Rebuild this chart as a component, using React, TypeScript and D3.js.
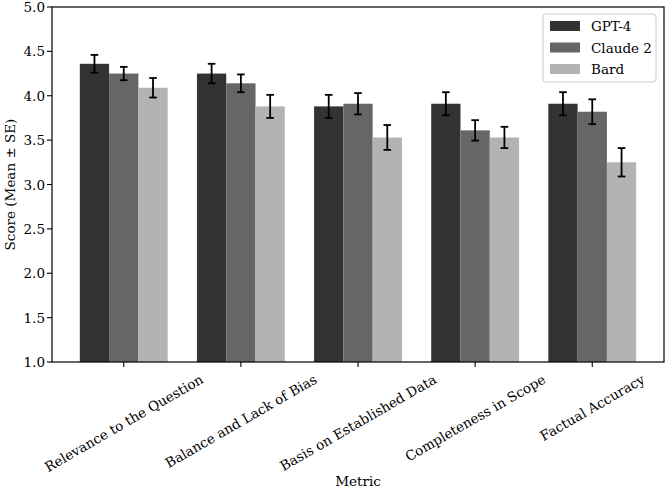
import React, { useEffect, useRef } from "react";
import * as d3 from "d3";

const categories = [
  "Relevance to the Question",
  "Balance and Lack of Bias",
  "Basis on Established Data",
  "Completeness in Scope",
  "Factual Accuracy",
];
const seriesNames = ["GPT-4", "Claude 2", "Bard"];
const gpt4Mean = [4.36, 4.25, 3.88, 3.91, 3.91];
const gpt4SE = [0.1, 0.11, 0.13, 0.13, 0.13];
const claudeMean = [4.25, 4.14, 3.91, 3.61, 3.82];
const claudeSE = [0.075, 0.1, 0.12, 0.115, 0.14];
const bardMean = [4.09, 3.88, 3.53, 3.53, 3.25];
const bardSE = [0.11, 0.13, 0.14, 0.12, 0.16];
const yTicks = [1.0, 1.5, 2.0, 2.5, 3.0, 3.5, 4.0, 4.5, 5.0];
const colors = ["#333333", "#666666", "#b3b3b3"];

const W = 666;
const H = 488;
const FONT = "'DejaVu Serif', serif";
const FS = 13.5;

export default function App() {
  const ref = useRef<SVGSVGElement | null>(null);

  useEffect(() => {
    const svg = d3.select(ref.current);
    svg.selectAll("*").remove();

    const left = 52, right = 664, top = 7, bottom = 362;
    const barW = 0.25;
    const n = categories.length;
    const lo = -1.5 * barW, hi = n - 1 + 1.5 * barW;
    const m = 0.05 * (hi - lo);
    const x = d3.scaleLinear().domain([lo - m, hi + m]).range([left, right]);
    const y = d3.scaleLinear().domain([1, 5]).range([bottom, top]);

    const means = [gpt4Mean, claudeMean, bardMean];
    const ses = [gpt4SE, claudeSE, bardSE];

    const g = svg.append("g");

    // bars
    means.forEach((vals, s) => {
      g.selectAll(null)
        .data(vals)
        .enter()
        .append("rect")
        .attr("x", (_, i) => x(i + (s - 1.5) * barW))
        .attr("width", x(barW) - x(0))
        .attr("y", (d) => y(d))
        .attr("height", (d) => y(1) - y(d))
        .attr("fill", colors[s]);
    });

    // error bars
    means.forEach((vals, s) => {
      vals.forEach((v, i) => {
        const cx = x(i + (s - 1) * barW);
        const e = ses[s][i];
        const y0 = y(v - e), y1 = y(v + e);
        const cap = 3.8;
        g.append("line").attr("x1", cx).attr("x2", cx).attr("y1", y0).attr("y2", y1)
          .attr("stroke", "#000").attr("stroke-width", 1.8);
        [y0, y1].forEach((yy) =>
          g.append("line").attr("x1", cx - cap).attr("x2", cx + cap).attr("y1", yy).attr("y2", yy)
            .attr("stroke", "#000").attr("stroke-width", 1.8)
        );
      });
    });

    // spines
    g.append("rect").attr("x", left).attr("y", top).attr("width", right - left).attr("height", bottom - top)
      .attr("fill", "none").attr("stroke", "#000").attr("stroke-width", 1.2);

    // y ticks
    yTicks.forEach((t) => {
      g.append("line").attr("x1", left - 5).attr("x2", left).attr("y1", y(t)).attr("y2", y(t))
        .attr("stroke", "#000").attr("stroke-width", 1.1);
      g.append("text").attr("x", left - 7).attr("y", y(t)).attr("text-anchor", "end")
        .attr("dominant-baseline", "central").attr("font-family", FONT).attr("font-size", FS)
        .attr("fill", "#000").text(d3.format(".1f")(t));
    });

    // x ticks and rotated labels
    const ang = (30 * Math.PI) / 180;
    categories.forEach((c, i) => {
      const cx = x(i);
      g.append("line").attr("x1", cx).attr("x2", cx).attr("y1", bottom).attr("y2", bottom + 5)
        .attr("stroke", "#000").attr("stroke-width", 1.1);
      const txt = g.append("text").attr("font-family", FONT).attr("font-size", FS)
        .attr("text-anchor", "middle").attr("dominant-baseline", "central").attr("fill", "#000").text(c);
      const L = (txt.node() as SVGTextElement).getComputedTextLength();
      const h = FS * 1.0;
      const bh = L * Math.sin(ang) + h * Math.cos(ang);
      const cy = bottom + 10 + bh / 2;
      txt.attr("transform", `translate(${cx},${cy}) rotate(-30)`);
    });

    // axis labels
    g.append("text").attr("x", (left + right) / 2).attr("y", 486).attr("text-anchor", "middle")
      .attr("font-family", FONT).attr("font-size", FS).attr("fill", "#000").text("Metric");
    g.append("text").attr("transform", `translate(10,${(top + bottom) / 2}) rotate(-90)`)
      .attr("text-anchor", "middle").attr("dominant-baseline", "central")
      .attr("font-family", FONT).attr("font-size", FS).attr("fill", "#000").text("Score (Mean ± SE)");

    // legend
    const lg = g.append("g");
    lg.append("rect").attr("x", 543).attr("y", 14).attr("width", 113).attr("height", 68).attr("rx", 3)
      .attr("fill", "#fff").attr("fill-opacity", 0.8).attr("stroke", "#cccccc").attr("stroke-width", 1);
    seriesNames.forEach((nm, s) => {
      const cy = 26 + s * 21.5;
      lg.append("rect").attr("x", 550).attr("y", cy - 5).attr("width", 30).attr("height", 10).attr("fill", colors[s]);
      lg.append("text").attr("x", 591).attr("y", cy).attr("dominant-baseline", "central")
        .attr("font-family", FONT).attr("font-size", FS).attr("fill", "#000").text(nm);
    });
  }, []);

  return (
    <div style={{ position: "fixed", left: 0, top: 0, width: W, height: H, background: "#fff" }}>
      <svg ref={ref} width={W} height={H} style={{ display: "block" }} />
    </div>
  );
}
